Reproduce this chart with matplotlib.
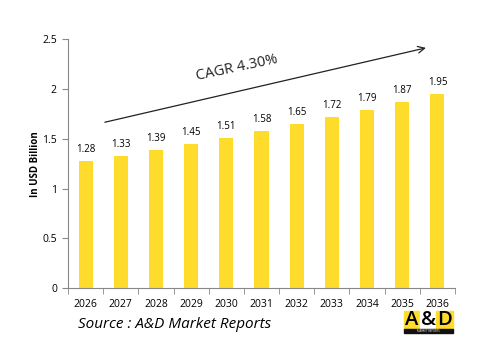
import matplotlib
matplotlib.use("Agg")
import matplotlib.pyplot as plt
from matplotlib.patches import Rectangle
import numpy as np

plt.rcParams['font.family'] = ['Open Sans', 'DejaVu Sans']

years = ['2026', '2027', '2028', '2029', '2030', '2031', '2032', '2033', '2034', '2035', '2036']
values = [1.28, 1.33, 1.39, 1.45, 1.51, 1.58, 1.65, 1.72, 1.79, 1.87, 1.95]
yticks = [0, 0.5, 1, 1.5, 2, 2.5]
ytick_labels = ['0', '0.5', '1', '1.5', '2', '2.5']

W, H = 491, 357
fig = plt.figure(figsize=(W / 100, H / 100), dpi=100)
ax = fig.add_axes([68 / W, 1 - 288 / H, 387 / W, (288 - 39.3) / H])

x = np.arange(len(years))
ax.bar(x, values, width=0.4, color='#FFDC2C')
for xi, v in zip(x, values):
    ax.text(xi, v + 0.06, f'{v:.2f}', ha='center', va='bottom', fontsize=7)

ax.set_xlim(-0.5, len(years) - 0.5)
ax.set_ylim(0, 2.5)
ax.set_yticks(yticks)
ax.set_yticklabels(ytick_labels, fontsize=7.5)
ax.set_xticks(x)
ax.set_xticklabels(years, fontsize=7.5)
ax.set_xticks(np.arange(-0.5, len(years)), minor=True)
ax.tick_params(axis='x', which='major', length=0, pad=8)
ax.tick_params(axis='x', which='minor', length=4, color='#888888')
ax.tick_params(axis='y', length=4, color='#888888', pad=4)
for s in ['top', 'right']:
    ax.spines[s].set_visible(False)
for s in ['left', 'bottom']:
    ax.spines[s].set_color('#888888')
ax.set_ylabel('In USD Billion', fontsize=7, fontweight='bold', labelpad=1)

# CAGR arrow
ax.annotate('', xy=(9.75, 2.42), xytext=(0.47, 1.66),
            arrowprops=dict(arrowstyle='->', color='#222222', lw=0.9, mutation_scale=12))
ax.text(4.3, 2.21, 'CAGR 4.30%', fontsize=10.5, rotation=12, ha='center', va='center', color='#222222')

# Source
fig.text(78 / W, 1 - 325 / H, 'Source : A&D Market Reports', fontsize=11, style='italic',
         ha='left', va='center')

# Logo
def fig_rect(x0, y0, w, h, color):
    fig.patches.append(Rectangle((x0 / W, 1 - (y0 + h) / H), w / W, h / H,
                                 transform=fig.transFigure, color=color, zorder=5))

fig_rect(404, 311, 16, 18, '#FFDC2C')
fig_rect(420, 311, 16, 18, '#FFFFFF')
fig_rect(436, 311, 17, 18, '#FFDC2C')
fig_rect(404, 329, 49, 4, '#111111')
for lx, letter in [(412, 'A'), (428, '&'), (444.5, 'D')]:
    fig.text(lx / W, 1 - 320 / H, letter, fontsize=14.5, fontweight='semibold',
             ha='center', va='center', zorder=6)
fig.text(428.5 / W, 1 - 331 / H, 'MARKET REPORTS', fontsize=2, color='white',
         ha='center', va='center', zorder=6)

fig.savefig('out.png', dpi=100)
